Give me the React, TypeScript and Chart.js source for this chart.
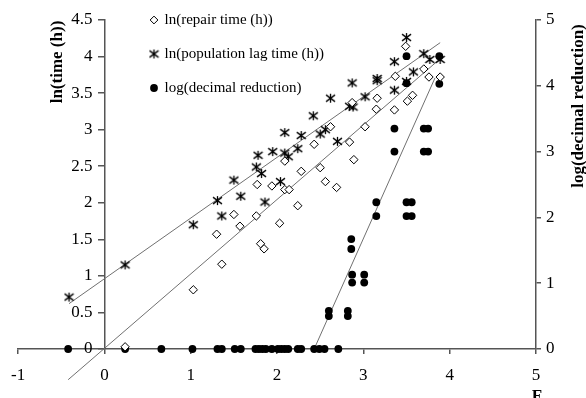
import React, { useEffect, useRef } from 'react';
import { Chart, registerables } from 'chart.js';

Chart.register(...registerables);

// ---- data ----
const seriesLabels = ['ln(repair time (h))', 'ln(population lag time (h))', 'log(decimal reduction)'];

// [F, ln(repair time)]
const repairTime: [number, number][] = [
  [0.24, 0.03], [1.03, 0.81], [1.36, 1.16], [1.30, 1.57], [1.50, 1.84], [1.57, 1.68],
  [1.76, 1.82], [1.81, 1.44], [1.85, 1.37], [2.03, 1.72], [2.24, 1.96], [1.77, 2.25],
  [1.94, 2.23], [2.09, 2.18], [2.14, 2.18], [2.09, 2.57], [2.28, 2.43], [2.50, 2.48],
  [2.56, 2.29], [2.69, 2.21], [2.43, 2.80], [2.62, 3.04], [2.84, 2.83], [2.89, 2.59],
  [2.87, 3.37], [3.02, 3.04], [3.15, 3.28], [3.16, 3.43], [3.36, 3.27], [3.37, 3.73],
  [3.51, 3.39], [3.57, 3.47], [3.49, 4.14], [3.70, 3.83], [3.76, 3.72], [3.89, 3.72],
];

// [F, ln(population lag time)]
const populationLag: [number, number][] = [
  [-0.41, 0.71], [0.24, 1.15], [1.03, 1.70], [1.31, 2.03], [1.36, 1.82], [1.50, 2.31],
  [1.58, 2.09], [1.76, 2.49], [1.82, 2.40], [1.78, 2.65], [1.86, 2.01], [1.95, 2.70],
  [2.04, 2.29], [2.09, 2.96], [2.09, 2.68], [2.13, 2.63], [2.24, 2.74], [2.28, 2.92],
  [2.42, 3.19], [2.50, 2.94], [2.56, 3.00], [2.70, 2.84], [2.62, 3.43], [2.84, 3.32],
  [2.88, 3.31], [2.87, 3.64], [3.02, 3.45], [3.16, 3.67], [3.16, 3.70], [3.36, 3.54],
  [3.36, 3.93], [3.50, 3.66], [3.58, 3.79], [3.50, 4.26], [3.70, 4.04], [3.77, 3.96],
  [3.89, 3.96],
];

// [F, log(decimal reduction)] on the right axis
const decimalReduction: [number, number][] = [
  [-0.42, 0], [0.24, 0], [0.66, 0], [1.02, 0], [1.31, 0], [1.36, 0], [1.51, 0], [1.58, 0],
  [1.75, 0], [1.79, 0], [1.83, 0], [1.87, 0], [1.94, 0], [2.01, 0], [2.05, 0], [2.09, 0],
  [2.13, 0], [2.24, 0], [2.28, 0], [2.43, 0], [2.49, 0], [2.55, 0], [2.71, 0],
  [2.60, 0.50], [2.60, 0.58], [2.82, 0.50], [2.82, 0.58],
  [2.87, 1.01], [2.87, 1.13], [3.01, 1.01], [3.01, 1.13],
  [2.86, 1.52], [2.86, 1.67],
  [3.15, 2.02], [3.15, 2.23], [3.50, 2.02], [3.56, 2.02], [3.50, 2.23], [3.56, 2.23],
  [3.36, 3.0], [3.36, 3.35], [3.70, 3.0], [3.75, 3.0], [3.70, 3.35], [3.75, 3.35],
  [3.50, 4.04], [3.50, 4.45], [3.88, 4.03], [3.88, 4.45],
];

// fitted trend lines (end points in data units)
const repairFit: [number, number][] = [[-0.42, -0.42], [3.89, 3.97]];
const lagFit: [number, number][] = [[-0.41, 0.62], [3.89, 4.19]];
const reductionFit: [number, number][] = [[2.43, 0], [3.83, 4.12]];

const xTicks = [-1, 0, 1, 2, 3, 4, 5];
const leftTicks = [0, 0.5, 1, 1.5, 2, 2.5, 3, 3.5, 4, 4.5];
const rightTicks = [0, 1, 2, 3, 4, 5];

const leftTitle = 'ln(time (h))';
const rightTitle = 'log(decimal reduction)';
const xTitle = 'F';

const toPts = (arr: [number, number][]) => arr.map(([x, y]) => ({ x, y }));

const FONT = '"Liberation Serif", "Times New Roman", serif';
const AXIS = '#555555';
const TREND = '#707070';
const LEFT_LABEL_GAP = 12;

function makeStar(): HTMLCanvasElement {
  const c = document.createElement('canvas');
  const size = 11;
  c.width = size;
  c.height = size;
  const ctx = c.getContext('2d')!;
  ctx.strokeStyle = '#000';
  ctx.lineWidth = 1.3;
  const m = size / 2;
  const r = 4.5;
  ctx.beginPath();
  ctx.moveTo(m, m - r);
  ctx.lineTo(m, m + r);
  ctx.moveTo(m - r, m - r * 0.75);
  ctx.lineTo(m + r, m + r * 0.75);
  ctx.moveTo(m - r, m + r * 0.75);
  ctx.lineTo(m + r, m - r * 0.75);
  ctx.stroke();
  return c;
}

const titlesPlugin = {
  id: 'customTitles',
  beforeDraw(chart: any) {
    const lg = chart.legend;
    if (lg) {
      lg.left = 132;
      lg.top = -6.5;
      lg.right = 586;
      lg.bottom = 398;
    }
    // y axis sits at x = 0: move its labels away from the tick marks
    const ys = chart.scales.y;
    if (ys) {
      const items = ys.getLabelItems();
      if (items && !(items as any).__shifted) {
        items.forEach((it: any) => {
          if (it.options && it.options.translation) it.options.translation[0] -= LEFT_LABEL_GAP;
        });
        (items as any).__shifted = true;
      }
    }
  },
  afterDraw(chart: any) {
    const ctx = chart.ctx as CanvasRenderingContext2D;
    ctx.save();
    ctx.fillStyle = '#000';
    ctx.font = `bold 17px ${FONT}`;
    ctx.textAlign = 'center';
    ctx.textBaseline = 'middle';
    ctx.save();
    ctx.translate(58, 62);
    ctx.rotate(-Math.PI / 2);
    ctx.fillText(leftTitle, 0, 0);
    ctx.restore();
    ctx.save();
    ctx.translate(579, 106);
    ctx.rotate(-Math.PI / 2);
    ctx.fillText(rightTitle, 0, 0);
    ctx.restore();
    ctx.textBaseline = 'alphabetic';
    ctx.fillText(xTitle, 537, 401);
    ctx.restore();
  },
};

export default function App() {
  const ref = useRef<HTMLCanvasElement | null>(null);

  useEffect(() => {
    if (!ref.current) return;
    Chart.defaults.font.family = FONT;
    Chart.defaults.color = '#000';
    const star = makeStar();

    const trend = (data: [number, number][], yAxisID: string) => ({
      label: 'trend',
      data: toPts(data),
      yAxisID,
      showLine: true,
      borderColor: TREND,
      borderWidth: 1,
      pointRadius: 0,
      pointHoverRadius: 0,
      fill: false,
      clip: false as any,
    });

    const chart = new Chart(ref.current, {
      type: 'scatter',
      data: {
        datasets: [
          {
            label: seriesLabels[0],
            data: toPts(repairTime),
            yAxisID: 'y',
            pointStyle: 'rectRot',
            pointRadius: 4.2,
            borderColor: '#000',
            borderWidth: 1,
            backgroundColor: '#fff',
            clip: false as any,
          },
          {
            label: seriesLabels[1],
            data: toPts(populationLag),
            yAxisID: 'y',
            pointStyle: star as any,
            borderColor: '#000',
            backgroundColor: '#000',
            clip: false as any,
          },
          {
            label: seriesLabels[2],
            data: toPts(decimalReduction),
            yAxisID: 'y2',
            pointStyle: 'circle',
            pointRadius: 3.9,
            borderWidth: 0,
            borderColor: '#000',
            backgroundColor: '#000',
            clip: false as any,
          },
          trend(repairFit, 'y'),
          trend(lagFit, 'y'),
          trend(reductionFit, 'y2'),
        ],
      },
      options: {
        animation: false,
        responsive: false,
        maintainAspectRatio: false,
        layout: { padding: { left: 17, top: 20, right: 0, bottom: 0 } },
        plugins: {
          tooltip: { enabled: false },
          legend: {
            position: 'chartArea',
            align: 'start',
            labels: {
              usePointStyle: true,
              boxWidth: 6,
              boxHeight: 5.5,
              padding: 19,
              color: '#000',
              font: { size: 15, family: FONT },
              filter: (item: any) => item.datasetIndex < 3,
            },
          },
        },
        scales: {
          x: {
            type: 'linear',
            position: 'bottom',
            min: -1,
            max: 5,
            afterBuildTicks: (s: any) => {
              s.ticks = xTicks.map((value) => ({ value }));
            },
            afterFit: (s: any) => {
              s.height = 61;
            },
            ticks: {
              font: { size: 17, family: FONT },
              color: '#000',
              padding: 11,
              callback: (v: any) => String(v),
            },
            grid: { drawOnChartArea: false, drawTicks: true, tickLength: 5, color: AXIS, lineWidth: 1.5 },
            border: { display: true, color: AXIS, width: 1.5 },
          },
          y: {
            type: 'linear',
            position: { x: 0 } as any,
            min: 0,
            max: 4.5,
            afterBuildTicks: (s: any) => {
              s.ticks = leftTicks.map((value) => ({ value }));
            },
            ticks: {
              font: { size: 17, family: FONT },
              color: '#000',
              padding: 4,
              callback: (v: any) => String(v),
            },
            grid: { drawOnChartArea: false, drawTicks: true, tickLength: 6, color: AXIS, lineWidth: 1.5 },
            border: { display: true, color: AXIS, width: 1.5 },
          },
          y2: {
            type: 'linear',
            position: 'right',
            min: 0,
            max: 5,
            afterBuildTicks: (s: any) => {
              s.ticks = rightTicks.map((value) => ({ value }));
            },
            afterFit: (s: any) => {
              s.width = 50;
            },
            ticks: {
              font: { size: 17, family: FONT },
              color: '#000',
              padding: 5,
              callback: (v: any) => String(v),
            },
            grid: { drawOnChartArea: false, drawTicks: true, tickLength: 5, color: AXIS, lineWidth: 1.5 },
            border: { display: true, color: AXIS, width: 1.5 },
          },
        },
      },
      plugins: [titlesPlugin],
    } as any);

    return () => chart.destroy();
  }, []);

  return (
    <div style={{ position: 'absolute', left: 0, top: 0, width: 586, height: 398, overflow: 'hidden', background: '#fff' }}>
      <canvas ref={ref} width={586} height={410} style={{ width: 586, height: 410, display: 'block' }} />
    </div>
  );
}
